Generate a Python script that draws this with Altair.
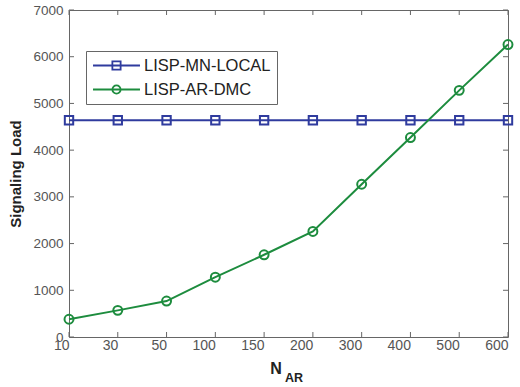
import altair as alt
import pandas as pd

# ---- data ----
categories = ["10", "30", "50", "100", "150", "200", "300", "400", "500", "600"]
series_names = ["LISP-MN-LOCAL", "LISP-AR-DMC"]
mn_local = [4640, 4640, 4640, 4640, 4640, 4640, 4640, 4640, 4640, 4640]
ar_dmc = [380, 570, 770, 1280, 1760, 2260, 3270, 4270, 5280, 6260]
y_ticks = [0, 1000, 2000, 3000, 4000, 5000, 6000, 7000]
colors = ["#2f3b9e", "#1d8c3e"]

rows = []
for c, v in zip(categories, mn_local):
    rows.append({"nar": c, "load": v, "series": series_names[0]})
for c, v in zip(categories, ar_dmc):
    rows.append({"nar": c, "load": v, "series": series_names[1]})
df = pd.DataFrame(rows)

W, H = 439, 327
FONT = "Liberation Sans"

x_enc = alt.X(
    "nar:N",
    sort=categories,
    scale=alt.Scale(type="point", padding=0),
    axis=alt.Axis(
        title=None, labelAngle=0, domain=False, ticks=False, grid=False,
        labelFont=FONT, labelFontSize=14, labelColor="#555", labelPadding=8,
    ),
)
y_enc = alt.Y(
    "load:Q",
    scale=alt.Scale(domain=[0, 7000], nice=False),
    axis=alt.Axis(
        values=y_ticks, format="d", title="Signaling Load", domain=False, ticks=False, grid=False,
        labelFont=FONT, labelFontSize=13.5, labelColor="#555", labelPadding=6,
        titleFont=FONT, titleFontSize=15, titleFontWeight="bold", titleColor="#222",
        titlePadding=9,
    ),
)

sq = "M-3.13,0H3.13M-0.55,-0.55H0.55V0.55H-0.55Z"
ci = "M-3.13,0H3.13M0.55,0A0.55,0.55 0 1,1 -0.55,0A0.55,0.55 0 1,1 0.55,0Z"

legend = alt.Legend(
    title=None, orient="none", legendX=17, legendY=41,
    fillColor="white", strokeColor="#666", padding=6,
    labelFont=FONT, labelFontSize=16.5, labelColor="#222",
    symbolSize=225, symbolOffset=16, labelOffset=19, rowPadding=7,
    symbolStrokeWidth=1.8, symbolOpacity=1, symbolFillColor="transparent",
)

base = alt.Chart(df)

layers = []
for name, col, shp, sz in zip(series_names, colors, ["square", "circle"], [70, 80]):
    sub = base.transform_filter(alt.datum.series == name)
    layers.append(sub.mark_line(strokeWidth=2, color=col).encode(x=x_enc, y=y_enc))
    layers.append(sub.mark_point(shape=shp, filled=False, size=sz, strokeWidth=2,
                                 color=col, opacity=1).encode(x=x_enc, y=y_enc))

# invisible layer that only carries the legend
legend_layer = base.mark_point(opacity=0, filled=False).encode(
    x=x_enc, y=y_enc,
    color=alt.Color("series:N", scale=alt.Scale(domain=series_names, range=colors), legend=legend),
    shape=alt.Shape("series:N", scale=alt.Scale(domain=series_names, range=[sq, ci]), legend=legend),
)

xt = pd.DataFrame({"nar": categories})
yt = pd.DataFrame({"load": y_ticks})
tick_col = "#666"
xticks_b = alt.Chart(xt).mark_rule(color=tick_col, strokeWidth=1).encode(
    x=alt.X("nar:N", sort=categories), y=alt.value(H), y2=alt.value(H - 5))
xticks_t = alt.Chart(xt).mark_rule(color=tick_col, strokeWidth=1).encode(
    x=alt.X("nar:N", sort=categories), y=alt.value(0), y2=alt.value(5))
yticks_l = alt.Chart(yt).mark_rule(color=tick_col, strokeWidth=1).encode(
    y=alt.Y("load:Q"), x=alt.value(0), x2=alt.value(5))
yticks_r = alt.Chart(yt).mark_rule(color=tick_col, strokeWidth=1).encode(
    y=alt.Y("load:Q"), x=alt.value(W - 5), x2=alt.value(W))

t_n = alt.Chart(pd.DataFrame({"t": ["N"]})).mark_text(
    font=FONT, fontSize=16, fontWeight="bold", color="#222", align="center", baseline="alphabetic"
).encode(text="t:N", x=alt.value(207), y=alt.value(364))
t_ar = alt.Chart(pd.DataFrame({"t": ["AR"]})).mark_text(
    font=FONT, fontSize=12.5, fontWeight="bold", color="#222", align="left", baseline="alphabetic"
).encode(text="t:N", x=alt.value(216), y=alt.value(372))

chart = alt.layer(
    xticks_b, xticks_t, yticks_l, yticks_r, *layers, legend_layer, t_n, t_ar
).properties(
    width=W, height=H,
    autosize=alt.AutoSizeParams(type="none"),
    padding={"left": 69, "top": 10, "right": 12, "bottom": 50},
    background="white",
).configure_view(stroke="#666", strokeWidth=1)

chart.save("out.html", embed_options={"renderer": "svg", "actions": False})
